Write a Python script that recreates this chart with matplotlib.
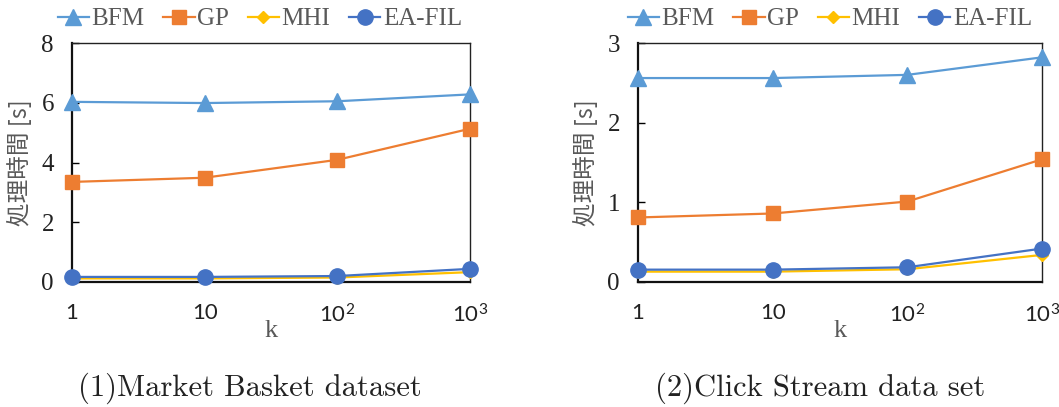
import matplotlib
matplotlib.use("Agg")
import matplotlib.pyplot as plt

plt.rcParams["mathtext.fontset"] = "custom"
plt.rcParams["mathtext.rm"] = "Lato"
plt.rcParams["mathtext.it"] = "Lato"

k_labels = ["1", "10", "10$^2$", "10$^3$"]
series_names = ["BFM", "GP", "MHI", "EA-FIL"]

# (1) Market Basket dataset
mb_bfm = [6.03, 5.99, 6.05, 6.28]
mb_gp = [3.35, 3.49, 4.09, 5.13]
mb_mhi = [0.12, 0.12, 0.15, 0.33]
mb_eafil = [0.17, 0.17, 0.20, 0.44]

# (2) Click Stream data set
cs_bfm = [2.56, 2.56, 2.60, 2.82]
cs_gp = [0.81, 0.86, 1.01, 1.54]
cs_mhi = [0.13, 0.13, 0.16, 0.34]
cs_eafil = [0.155, 0.155, 0.185, 0.42]

colors = ["#5B9BD5", "#ED7D31", "#FFC000", "#4472C4"]
markers = ["^", "s", "D", "o"]
msizes = [11, 10, 6, 11]

serif = ["Liberation Serif", "DejaVu Serif"]
gray = "#595959"

fig = plt.figure(figsize=(10.59, 4.07), dpi=100)


def draw(ax, data, ymax, ystep, legend_x, caption, caption_x):
    x = list(range(len(k_labels)))
    for vals, name, c, m, ms in zip(data, series_names, colors, markers, msizes):
        ax.plot(x, vals, color=c, marker=m, markersize=ms, linewidth=1.6,
                label=name, clip_on=False, zorder=3)
    ax.set_xlim(0, len(k_labels) - 1)
    ax.set_ylim(0, ymax)
    ax.set_yticks([i * ystep for i in range(int(ymax / ystep) + 1)])
    ax.set_xticks(x)
    ax.set_xticklabels(k_labels, family=["Lato", "DejaVu Sans"], fontsize=16,
                       color="#222222")
    for lab in ax.get_yticklabels():
        lab.set_family(serif)
        lab.set_fontsize(18)
        lab.set_color("#222222")
    ax.tick_params(axis="y", direction="in", length=5, width=1, pad=13)
    ax.tick_params(axis="x", length=0, pad=15)
    for side in ["left", "bottom"]:
        ax.spines[side].set_linewidth(1.6)
        ax.spines[side].set_color("#111111")
    for side in ["top", "right"]:
        ax.spines[side].set_linewidth(1.0)
        ax.spines[side].set_color("#222222")

    ax.set_xlabel("k", family=serif, fontsize=19, color=gray)
    ax.xaxis.set_label_coords(0.5, -0.16)
    ax.set_ylabel("処理時間 [s]", family=["Noto Sans CJK JP", "DejaVu Sans"],
                  fontsize=17, color=gray)
    ax.yaxis.set_label_coords(-0.1, 0.5)

    ax.legend(loc="center", bbox_to_anchor=(legend_x, 1.1), ncol=4,
              frameon=False, prop={"family": serif, "size": 18},
              labelcolor=gray, handlelength=1.25, handletextpad=0.1,
              columnspacing=0.75, borderaxespad=0)

    fig.text(caption_x, 1 - 388 / 407, caption, family=["cmr10", "DejaVu Serif"],
             fontsize=22, color="#222222", ha="center", va="center")


ax1 = fig.add_axes([72 / 1059, 1 - 282 / 407, 398 / 1059, 239 / 407])
draw(ax1, [mb_bfm, mb_gp, mb_mhi, mb_eafil], 8, 2, 0.472,
     "(1)Market Basket dataset", 250 / 1059)

ax2 = fig.add_axes([638 / 1059, 1 - 282 / 407, 404 / 1059, 239 / 407])
draw(ax2, [cs_bfm, cs_gp, cs_mhi, cs_eafil], 3, 1, 0.475,
     "(2)Click Stream data set", 820 / 1059)

fig.savefig("out.png", dpi=100)
